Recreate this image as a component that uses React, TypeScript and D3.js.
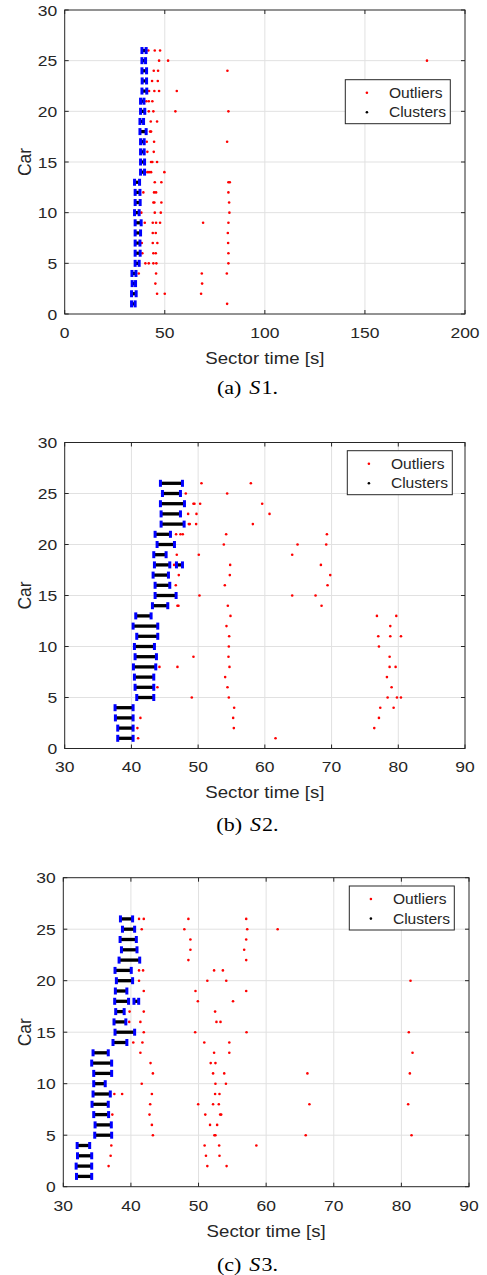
import React from 'react';
import * as d3 from 'd3';

// ---------- data ----------
const carTicks = [0, 5, 10, 15, 20, 25, 30];
const s1XTicks = [0, 50, 100, 150, 200];
const s2XTicks = [30, 40, 50, 60, 70, 80, 90];
const s3XTicks = [30, 40, 50, 60, 70, 80, 90];
const legendLabels = ['Outliers', 'Clusters'];
const xLabel = 'Sector time [s]';
const yLabel = 'Car';
const captionLetters = ['(a)', '(b)', '(c)'];
const captionSectors = ['1', '2', '3'];

// [car, from, to]
const s1Clusters: [number, number, number][] = [
  [26, 38.6, 40.7], [25, 38.6, 40.4], [24, 38.6, 40.9], [23, 38.7, 40.9], [22, 38.6, 41.0],
  [21, 37.9, 39.6], [20, 37.9, 40.0], [19, 37.6, 39.4], [18, 37.6, 40.7], [17, 37.9, 39.7],
  [16, 37.9, 39.7], [15, 37.9, 39.9], [14, 37.9, 39.9], [13, 34.9, 37.4], [12, 35.2, 37.6],
  [11, 35.2, 37.7], [10, 34.9, 37.2], [9, 35.2, 38.2], [8, 35.2, 37.9], [7, 35.2, 37.6],
  [6, 35.2, 37.7], [5, 35.2, 37.2], [4, 33.6, 35.6], [3, 33.7, 35.4], [2, 33.4, 35.7],
  [1, 33.4, 35.2],
];
// [car, outlier times]
const s1Outliers: [number, number[]][] = [
  [26, [41.8, 45.0, 47.65]], [25, [47.15, 51.65, 181]], [24, [44.5, 46.65, 81.3]],
  [23, [43.65, 46.5]], [22, [42.15, 44.8, 47.15, 56.0]], [21, [40.8, 42.0, 43.8]],
  [20, [42.0, 44.3, 55.3, 81.8]], [19, [43.0, 46.15]], [18, [42.65, 43.15]],
  [17, [41.0, 44.65, 81.15]], [16, [41.3, 44.5]], [15, [43.15, 43.8, 46.15]],
  [14, [41.3, 42.15, 43.15, 49.8]], [13, [45.0, 48.3, 81.8, 82.5]], [12, [39.3, 44.65, 45.65, 81.8]],
  [11, [44.3, 44.8, 48.3, 82.15]], [10, [38.3, 45.0, 48.0, 82.3]],
  [9, [40.0, 44.0, 45.65, 47.65, 69.15, 81.8]], [8, [44.0, 45.5, 81.5]],
  [7, [38.5, 44.0, 46.3, 81.65]], [6, [38.8, 44.3, 45.5, 81.8]],
  [5, [40.3, 42.0, 44.3, 45.8, 81.8]], [4, [37.0, 45.65, 68.5, 81.0]],
  [3, [45.3, 68.65]], [2, [46.15, 50.0, 68.15]], [1, [81.15]],
];

const s2Clusters: [number, number, number][] = [
  [26, 44.35, 47.65], [25, 44.65, 47.35], [24, 44.35, 47.95], [23, 44.45, 47.35], [22, 44.45, 47.9],
  [21, 43.55, 45.85], [20, 43.85, 46.45], [19, 43.35, 45.2], [18, 43.45, 45.75], [18, 46.75, 47.65],
  [17, 43.25, 45.55], [16, 43.55, 45.75], [15, 43.55, 46.7], [14, 43.15, 45.45], [13, 40.65, 42.95],
  [12, 40.25, 43.95], [11, 40.8, 43.95], [10, 40.45, 43.45], [9, 40.55, 43.75], [8, 40.3, 43.65],
  [7, 40.45, 43.35], [6, 40.55, 43.35], [5, 40.8, 43.35], [4, 37.55, 40.25], [3, 37.6, 40.25],
  [2, 37.95, 40.25], [1, 37.95, 40.25],
];
const s2Outliers: [number, number[]][] = [
  [26, [50.5, 57.9]], [25, [48.15, 54.35]], [24, [49.3, 49.45, 50.3, 59.6]],
  [23, [48.5, 49.75, 60.7]], [22, [48.6, 48.75, 49.7, 58.2]], [21, [46.7, 47.35, 47.7, 54.2, 69.3]],
  [20, [53.85, 64.9, 69.2]], [19, [46.8, 50.1, 64.1]], [18, [46.4, 54.8, 68.4]],
  [17, [47.1, 54.75, 69.8]], [16, [46.65, 54.0, 69.4]], [15, [50.2, 64.1, 67.6]],
  [14, [46.9, 47.05, 54.45, 68.5]], [13, [54.85, 76.8, 79.7]], [12, [54.25, 78.8]],
  [11, [54.65, 77.0, 78.8, 80.4]], [10, [54.6, 77.1]], [9, [49.3, 54.55, 78.7]],
  [8, [44.2, 46.9, 54.7, 78.7, 79.6]], [7, [54.05, 78.3]], [6, [43.9, 54.4, 79.0]],
  [5, [49.05, 54.6, 78.4, 79.8, 80.4]], [4, [55.4, 77.3, 79.3]], [3, [41.35, 55.25, 77.1]],
  [2, [40.9, 55.35, 76.4]], [1, [41.0, 61.6]],
];

const s3Clusters: [number, number, number][] = [
  [26, 38.45, 40.25], [25, 38.75, 40.55], [24, 38.4, 40.8], [23, 38.6, 40.9], [22, 38.25, 41.3],
  [21, 37.65, 40.05], [20, 37.85, 40.25], [19, 37.7, 39.4], [18, 37.6, 39.65], [18, 40.45, 41.15],
  [17, 37.75, 39.0], [16, 37.5, 39.25], [15, 37.65, 40.55], [14, 37.35, 39.4], [13, 34.4, 36.65],
  [12, 34.2, 37.15], [11, 34.5, 37.15], [10, 34.5, 36.2], [9, 34.4, 36.95], [8, 34.25, 36.65],
  [7, 34.5, 36.7], [6, 34.7, 37.1], [5, 34.65, 37.15], [4, 32.05, 33.9], [3, 32.1, 34.2],
  [2, 31.9, 34.2], [1, 31.95, 34.2],
];
const s3Outliers: [number, number[]][] = [
  [26, [41.2, 41.9, 48.5, 57.05]], [25, [41.6, 47.9, 57.2, 61.7]], [24, [48.8, 57.05]],
  [23, [48.8, 56.75]], [22, [48.5, 57.05]], [21, [41.2, 41.8, 52.3, 53.6]],
  [20, [41.2, 51.3, 54.1, 81.35]], [19, [41.9, 49.55, 57.05]], [18, [49.9, 55.1]],
  [17, [39.8, 41.9, 52.45]], [16, [39.75, 41.4, 52.65, 53.25]], [15, [41.9, 49.5, 57.1, 81.1]],
  [14, [40.35, 41.7, 50.85, 54.55]], [13, [41.4, 52.3, 54.55, 81.65]], [12, [42.9, 51.8, 52.5]],
  [11, [43.25, 52.15, 53.8, 66.1, 81.25]], [10, [41.6, 52.5, 54.05]],
  [9, [37.55, 38.7, 43.1, 52.45, 53.1]], [8, [42.85, 49.95, 52.15, 53.0, 66.4, 81.0]],
  [7, [37.25, 42.75, 51.0, 53.2, 53.35]], [6, [43.1, 51.7, 52.75]],
  [5, [43.25, 52.35, 52.5, 65.85, 81.5]], [4, [37.1, 50.9, 53.05, 58.55]],
  [3, [37.0, 51.1, 53.1]], [2, [36.7, 51.3, 54.15]],
];

// ---------- styling / layout ----------
const AXIS = '#262626';
const GRID = '#e1e1e1';
const SANS = '"Liberation Sans", Arial, Helvetica, sans-serif';
const SERIF = '"Liberation Serif", "Times New Roman", serif';
const SX = 1.13;

type Box = { left: number; right: number; top: number; bottom: number };
type PanelProps = {
  box: Box;
  xTicks: number[];
  clusters: [number, number, number][];
  outliers: [number, number[]][];
  legendTop: number;
  legendRight: number;
  captionIdx: number;
  tickDy: number;
  labelDy: number;
  captionDy: number;
};

function T(props: { x: number; y: number; size: number; anchor?: string; family?: string; rotate?: number; children: React.ReactNode }) {
  const { x, y, size, anchor = 'start', family = SANS, rotate = 0, children } = props;
  const tr = rotate ? `translate(${x},${y}) rotate(${rotate})` : `translate(${x},${y}) scale(${SX},1)`;
  return (
    <text transform={tr} fontSize={size} fontFamily={family} textAnchor={anchor} fill={AXIS}>
      {children}
    </text>
  );
}

function Panel(p: PanelProps) {
  const { box } = p;
  const x = d3.scaleLinear().domain([p.xTicks[0], p.xTicks[p.xTicks.length - 1]]).range([box.left, box.right]);
  const y = d3.scaleLinear().domain([carTicks[0], carTicks[carTicks.length - 1]]).range([box.bottom, box.top]);
  const tl = 4;
  const legW = 105;
  const legH = 44;
  const lx = p.legendRight - legW;
  const ly = p.legendTop;
  const cx = (box.left + box.right) / 2;
  return (
    <g>
      <rect x={box.left} y={box.top} width={box.right - box.left} height={box.bottom - box.top} fill="#fff" />
      {p.xTicks.slice(1, -1).map((t) => (
        <line key={'gx' + t} x1={x(t)} x2={x(t)} y1={box.top} y2={box.bottom} stroke={GRID} strokeWidth={1} />
      ))}
      {carTicks.slice(1, -1).map((t) => (
        <line key={'gy' + t} x1={box.left} x2={box.right} y1={y(t)} y2={y(t)} stroke={GRID} strokeWidth={1} />
      ))}
      {p.outliers.flatMap(([car, xs]) =>
        xs.map((v, i) => <circle key={`o${car}-${i}`} cx={x(v)} cy={y(car)} r={1.3} fill="#ff0000" />)
      )}
      {p.clusters.map(([car, a, b], i) => (
        <g key={'c' + i}>
          <line x1={x(a)} x2={x(b)} y1={y(car)} y2={y(car)} stroke="#000" strokeWidth={3.3} />
          <rect x={x(a) - 1.5} y={y(car) - 3.5} width={3} height={7} fill="#0000ff" />
          <rect x={x(b) - 1.5} y={y(car) - 3.5} width={3} height={7} fill="#0000ff" />
        </g>
      ))}
      <rect x={box.left} y={box.top} width={box.right - box.left} height={box.bottom - box.top} fill="none" stroke={AXIS} strokeWidth={1} />
      {p.xTicks.map((t) => (
        <g key={'tx' + t}>
          <line x1={x(t)} x2={x(t)} y1={box.bottom} y2={box.bottom - tl} stroke={AXIS} />
          <line x1={x(t)} x2={x(t)} y1={box.top} y2={box.top + tl} stroke={AXIS} />
          <T x={x(t)} y={box.bottom + p.tickDy} size={15.5} anchor="middle">{t}</T>
        </g>
      ))}
      {carTicks.map((t) => (
        <g key={'ty' + t}>
          <line x1={box.left} x2={box.left + tl} y1={y(t)} y2={y(t)} stroke={AXIS} />
          <line x1={box.right} x2={box.right - tl} y1={y(t)} y2={y(t)} stroke={AXIS} />
          <T x={box.left - 7.5} y={y(t) + 5.5} size={15.5} anchor="end">{t}</T>
        </g>
      ))}
      <T x={cx} y={box.bottom + p.labelDy} size={16.5} anchor="middle">{xLabel}</T>
      <T x={30.5} y={(box.top + box.bottom) / 2} size={17.5} anchor="middle" rotate={-90}>{yLabel}</T>
      <rect x={lx} y={ly} width={legW} height={legH} fill="#fff" stroke={AXIS} strokeWidth={1} />
      <circle cx={lx + 21.6} cy={ly + 13} r={1.3} fill="#ff0000" />
      <circle cx={lx + 21.6} cy={ly + 32.6} r={1.3} fill="#000" />
      <T x={lx + 43.6} y={ly + 18} size={13.8}>{legendLabels[0]}</T>
      <T x={lx + 43.6} y={ly + 37.6} size={13.8}>{legendLabels[1]}</T>
      <text transform={`translate(247.5,${box.bottom + p.captionDy}) scale(${SX},1)`} fontSize={19.5} fontFamily={SERIF} textAnchor="middle" fill="#000">
        <tspan>{captionLetters[p.captionIdx]}</tspan>
        <tspan dx={7} fontStyle="italic">S</tspan>
        <tspan dx={1}>{captionSectors[p.captionIdx] + '.'}</tspan>
      </text>
    </g>
  );
}

export default function App() {
  return (
    <svg width={487} height={1275} style={{ position: 'absolute', left: 0, top: 0, background: '#fff' }}>
      <rect x={0} y={0} width={487} height={1275} fill="#fff" />
      <Panel
        box={{ left: 64.7, right: 465, top: 10, bottom: 314 }}
        xTicks={s1XTicks}
        clusters={s1Clusters}
        outliers={s1Outliers}
        legendTop={79.7}
        legendRight={450.3}
        captionIdx={0}
        tickDy={23.5}
        labelDy={50}
        captionDy={80}
      />
      <Panel
        box={{ left: 64.7, right: 465, top: 442.5, bottom: 748.5 }}
        xTicks={s2XTicks}
        clusters={s2Clusters}
        outliers={s2Outliers}
        legendTop={450.7}
        legendRight={452.3}
        captionIdx={1}
        tickDy={23.4}
        labelDy={49}
        captionDy={82.5}
      />
      <Panel
        box={{ left: 63.3, right: 469, top: 877.7, bottom: 1186.7 }}
        xTicks={s3XTicks}
        clusters={s3Clusters}
        outliers={s3Outliers}
        legendTop={886}
        legendRight={454.3}
        captionIdx={2}
        tickDy={24.5}
        labelDy={50}
        captionDy={84}
      />
    </svg>
  );
}
